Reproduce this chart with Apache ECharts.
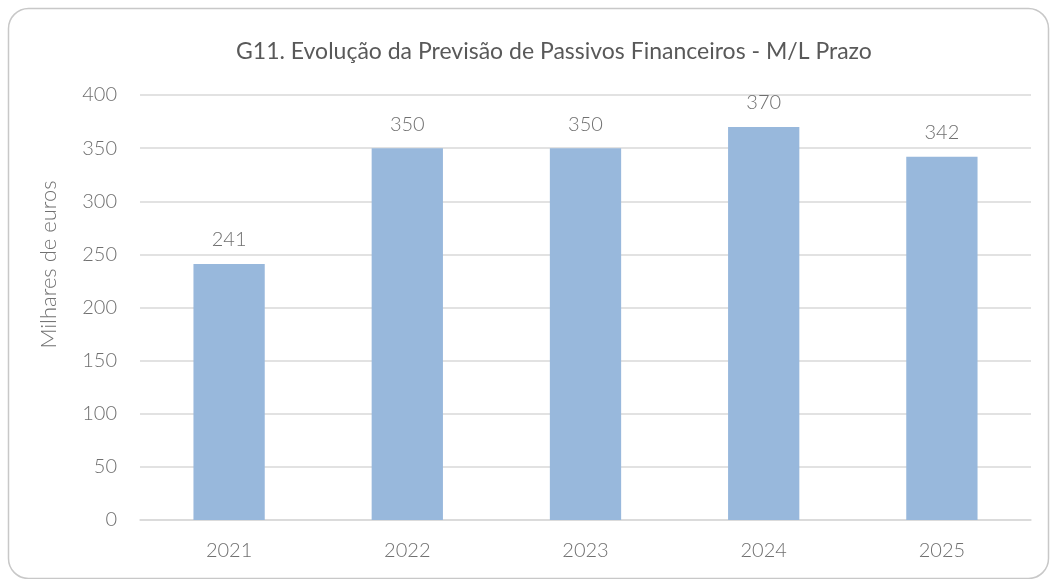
<!DOCTYPE html>
<html>
<head>
<meta charset="utf-8">
<script src="https://cdn.jsdelivr.net/npm/echarts@6/dist/echarts.min.js"></script>
<style>
  html, body { margin: 0; padding: 0; background: #fff; }
  #chart { width: 1051px; height: 579px; }
</style>
</head>
<body>
<div id="chart"></div>
<script>
const years = ['2021', '2022', '2023', '2024', '2025']
const values = [241, 350, 350, 370, 342]
const yTicks = { min: 0, max: 400, interval: 50 }

const grey = '#595959'
const lightGrey = '#707070'
const font = 'Lato, "Open Sans", sans-serif'

const chart = echarts.init(document.getElementById('chart'))

chart.setOption({
  animation: false,
  textStyle: { fontFamily: font },
  title: {
    text: 'G11. Evolução da Previsão de Passivos Financeiros - M/L Prazo',
    left: 231,
    top: 35,
    textStyle: { color: grey, fontSize: 23, fontWeight: 'normal', fontFamily: font }
  },
  graphic: [{
    type: 'rect',
    shape: { x: 8.5, y: 8.5, width: 1040, height: 570, r: 20 },
    style: { fill: 'none', stroke: '#c8c8c8', lineWidth: 1.5 },
    silent: true
  }],
  grid: { left: 140, right: 20, top: 95, bottom: 59 },
  xAxis: {
    type: 'category',
    data: years,
    axisLine: { lineStyle: { color: '#d9d9d9', width: 1.5 } },
    axisTick: { show: false },
    axisLabel: { color: lightGrey, fontSize: 20, fontWeight: 300, margin: 21 }
  },
  yAxis: {
    type: 'value',
    min: yTicks.min,
    max: yTicks.max,
    interval: yTicks.interval,
    name: 'Milhares de euros',
    nameLocation: 'middle',
    nameGap: 80,
    nameTextStyle: { color: lightGrey, fontSize: 22, fontWeight: 300, padding: [0, 0, 0, 86] },
    axisLine: { show: false },
    axisTick: { show: false },
    axisLabel: { color: lightGrey, fontSize: 20, fontWeight: 300, margin: 23 },
    splitLine: { lineStyle: { color: '#d9d9d9', width: 1.5 } }
  },
  series: [{
    type: 'bar',
    data: values,
    barWidth: '40%',
    itemStyle: { color: '#98b8dc' },
    label: {
      show: true,
      position: 'top',
      distance: 14,
      color: lightGrey,
      fontSize: 20,
      fontWeight: 300
    }
  }]
})
</script>
</body>
</html>
